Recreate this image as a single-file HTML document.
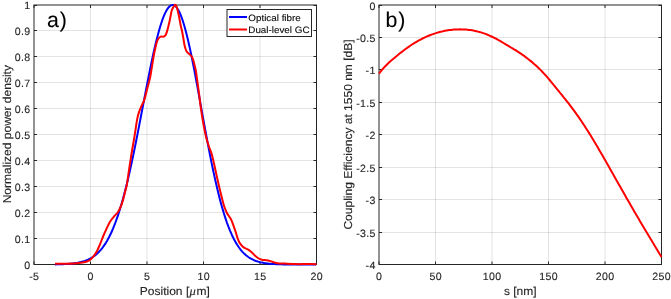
<!DOCTYPE html>
<html><head><meta charset="utf-8"><style>
html,body{margin:0;padding:0;background:#fff;}
svg{display:block;}
body>svg{will-change:transform;}
text{font-family:"Liberation Sans", sans-serif;fill:#262626;text-rendering:geometricPrecision;stroke:#262626;stroke-width:0.12px;}
</style></head><body>
<svg width="671" height="299" viewBox="0 0 671 299">
<rect width="671" height="299" fill="#fff"/>
<line x1="90.5" y1="5.0" x2="90.5" y2="264.5" stroke="#262626" stroke-opacity="0.13" stroke-width="1"/>
<line x1="147.0" y1="5.0" x2="147.0" y2="264.5" stroke="#262626" stroke-opacity="0.13" stroke-width="1"/>
<line x1="203.5" y1="5.0" x2="203.5" y2="264.5" stroke="#262626" stroke-opacity="0.13" stroke-width="1"/>
<line x1="260.0" y1="5.0" x2="260.0" y2="264.5" stroke="#262626" stroke-opacity="0.13" stroke-width="1"/>
<line x1="34.0" y1="238.5" x2="316.5" y2="238.5" stroke="#262626" stroke-opacity="0.13" stroke-width="1"/>
<line x1="34.0" y1="212.5" x2="316.5" y2="212.5" stroke="#262626" stroke-opacity="0.13" stroke-width="1"/>
<line x1="34.0" y1="186.5" x2="316.5" y2="186.5" stroke="#262626" stroke-opacity="0.13" stroke-width="1"/>
<line x1="34.0" y1="160.5" x2="316.5" y2="160.5" stroke="#262626" stroke-opacity="0.13" stroke-width="1"/>
<line x1="34.0" y1="134.5" x2="316.5" y2="134.5" stroke="#262626" stroke-opacity="0.13" stroke-width="1"/>
<line x1="34.0" y1="108.5" x2="316.5" y2="108.5" stroke="#262626" stroke-opacity="0.13" stroke-width="1"/>
<line x1="34.0" y1="82.5" x2="316.5" y2="82.5" stroke="#262626" stroke-opacity="0.13" stroke-width="1"/>
<line x1="34.0" y1="56.5" x2="316.5" y2="56.5" stroke="#262626" stroke-opacity="0.13" stroke-width="1"/>
<line x1="34.0" y1="30.5" x2="316.5" y2="30.5" stroke="#262626" stroke-opacity="0.13" stroke-width="1"/>
<line x1="435.5" y1="5.0" x2="435.5" y2="264.5" stroke="#262626" stroke-opacity="0.13" stroke-width="1"/>
<line x1="492.0" y1="5.0" x2="492.0" y2="264.5" stroke="#262626" stroke-opacity="0.13" stroke-width="1"/>
<line x1="548.5" y1="5.0" x2="548.5" y2="264.5" stroke="#262626" stroke-opacity="0.13" stroke-width="1"/>
<line x1="605.0" y1="5.0" x2="605.0" y2="264.5" stroke="#262626" stroke-opacity="0.13" stroke-width="1"/>
<line x1="379.0" y1="37.5" x2="661.5" y2="37.5" stroke="#262626" stroke-opacity="0.13" stroke-width="1"/>
<line x1="379.0" y1="69.5" x2="661.5" y2="69.5" stroke="#262626" stroke-opacity="0.13" stroke-width="1"/>
<line x1="379.0" y1="102.5" x2="661.5" y2="102.5" stroke="#262626" stroke-opacity="0.13" stroke-width="1"/>
<line x1="379.0" y1="134.5" x2="661.5" y2="134.5" stroke="#262626" stroke-opacity="0.13" stroke-width="1"/>
<line x1="379.0" y1="167.5" x2="661.5" y2="167.5" stroke="#262626" stroke-opacity="0.13" stroke-width="1"/>
<line x1="379.0" y1="199.5" x2="661.5" y2="199.5" stroke="#262626" stroke-opacity="0.13" stroke-width="1"/>
<line x1="379.0" y1="232.5" x2="661.5" y2="232.5" stroke="#262626" stroke-opacity="0.13" stroke-width="1"/>
<rect x="34.0" y="5.0" width="282.5" height="259.5" fill="none" stroke="#262626" stroke-width="1"/>
<line x1="34.0" y1="264.5" x2="34.0" y2="261.5" stroke="#262626"/>
<line x1="34.0" y1="5.0" x2="34.0" y2="8.0" stroke="#262626"/>
<line x1="90.5" y1="264.5" x2="90.5" y2="261.5" stroke="#262626"/>
<line x1="90.5" y1="5.0" x2="90.5" y2="8.0" stroke="#262626"/>
<line x1="147.0" y1="264.5" x2="147.0" y2="261.5" stroke="#262626"/>
<line x1="147.0" y1="5.0" x2="147.0" y2="8.0" stroke="#262626"/>
<line x1="203.5" y1="264.5" x2="203.5" y2="261.5" stroke="#262626"/>
<line x1="203.5" y1="5.0" x2="203.5" y2="8.0" stroke="#262626"/>
<line x1="260.0" y1="264.5" x2="260.0" y2="261.5" stroke="#262626"/>
<line x1="260.0" y1="5.0" x2="260.0" y2="8.0" stroke="#262626"/>
<line x1="316.5" y1="264.5" x2="316.5" y2="261.5" stroke="#262626"/>
<line x1="316.5" y1="5.0" x2="316.5" y2="8.0" stroke="#262626"/>
<line x1="34.0" y1="264.5" x2="37.0" y2="264.5" stroke="#262626"/>
<line x1="316.5" y1="264.5" x2="313.5" y2="264.5" stroke="#262626"/>
<line x1="34.0" y1="238.5" x2="37.0" y2="238.5" stroke="#262626"/>
<line x1="316.5" y1="238.5" x2="313.5" y2="238.5" stroke="#262626"/>
<line x1="34.0" y1="212.5" x2="37.0" y2="212.5" stroke="#262626"/>
<line x1="316.5" y1="212.5" x2="313.5" y2="212.5" stroke="#262626"/>
<line x1="34.0" y1="186.5" x2="37.0" y2="186.5" stroke="#262626"/>
<line x1="316.5" y1="186.5" x2="313.5" y2="186.5" stroke="#262626"/>
<line x1="34.0" y1="160.5" x2="37.0" y2="160.5" stroke="#262626"/>
<line x1="316.5" y1="160.5" x2="313.5" y2="160.5" stroke="#262626"/>
<line x1="34.0" y1="134.5" x2="37.0" y2="134.5" stroke="#262626"/>
<line x1="316.5" y1="134.5" x2="313.5" y2="134.5" stroke="#262626"/>
<line x1="34.0" y1="108.5" x2="37.0" y2="108.5" stroke="#262626"/>
<line x1="316.5" y1="108.5" x2="313.5" y2="108.5" stroke="#262626"/>
<line x1="34.0" y1="82.5" x2="37.0" y2="82.5" stroke="#262626"/>
<line x1="316.5" y1="82.5" x2="313.5" y2="82.5" stroke="#262626"/>
<line x1="34.0" y1="56.5" x2="37.0" y2="56.5" stroke="#262626"/>
<line x1="316.5" y1="56.5" x2="313.5" y2="56.5" stroke="#262626"/>
<line x1="34.0" y1="30.5" x2="37.0" y2="30.5" stroke="#262626"/>
<line x1="316.5" y1="30.5" x2="313.5" y2="30.5" stroke="#262626"/>
<line x1="34.0" y1="5.5" x2="37.0" y2="5.5" stroke="#262626"/>
<line x1="316.5" y1="5.5" x2="313.5" y2="5.5" stroke="#262626"/>
<rect x="379.0" y="5.0" width="282.5" height="259.5" fill="none" stroke="#262626" stroke-width="1"/>
<line x1="379.0" y1="264.5" x2="379.0" y2="261.5" stroke="#262626"/>
<line x1="379.0" y1="5.0" x2="379.0" y2="8.0" stroke="#262626"/>
<line x1="435.5" y1="264.5" x2="435.5" y2="261.5" stroke="#262626"/>
<line x1="435.5" y1="5.0" x2="435.5" y2="8.0" stroke="#262626"/>
<line x1="492.0" y1="264.5" x2="492.0" y2="261.5" stroke="#262626"/>
<line x1="492.0" y1="5.0" x2="492.0" y2="8.0" stroke="#262626"/>
<line x1="548.5" y1="264.5" x2="548.5" y2="261.5" stroke="#262626"/>
<line x1="548.5" y1="5.0" x2="548.5" y2="8.0" stroke="#262626"/>
<line x1="605.0" y1="264.5" x2="605.0" y2="261.5" stroke="#262626"/>
<line x1="605.0" y1="5.0" x2="605.0" y2="8.0" stroke="#262626"/>
<line x1="661.5" y1="264.5" x2="661.5" y2="261.5" stroke="#262626"/>
<line x1="661.5" y1="5.0" x2="661.5" y2="8.0" stroke="#262626"/>
<line x1="379.0" y1="5.5" x2="382.0" y2="5.5" stroke="#262626"/>
<line x1="661.5" y1="5.5" x2="658.5" y2="5.5" stroke="#262626"/>
<line x1="379.0" y1="37.5" x2="382.0" y2="37.5" stroke="#262626"/>
<line x1="661.5" y1="37.5" x2="658.5" y2="37.5" stroke="#262626"/>
<line x1="379.0" y1="69.5" x2="382.0" y2="69.5" stroke="#262626"/>
<line x1="661.5" y1="69.5" x2="658.5" y2="69.5" stroke="#262626"/>
<line x1="379.0" y1="102.5" x2="382.0" y2="102.5" stroke="#262626"/>
<line x1="661.5" y1="102.5" x2="658.5" y2="102.5" stroke="#262626"/>
<line x1="379.0" y1="134.5" x2="382.0" y2="134.5" stroke="#262626"/>
<line x1="661.5" y1="134.5" x2="658.5" y2="134.5" stroke="#262626"/>
<line x1="379.0" y1="167.5" x2="382.0" y2="167.5" stroke="#262626"/>
<line x1="661.5" y1="167.5" x2="658.5" y2="167.5" stroke="#262626"/>
<line x1="379.0" y1="199.5" x2="382.0" y2="199.5" stroke="#262626"/>
<line x1="661.5" y1="199.5" x2="658.5" y2="199.5" stroke="#262626"/>
<line x1="379.0" y1="232.5" x2="382.0" y2="232.5" stroke="#262626"/>
<line x1="661.5" y1="232.5" x2="658.5" y2="232.5" stroke="#262626"/>
<line x1="379.0" y1="264.5" x2="382.0" y2="264.5" stroke="#262626"/>
<line x1="661.5" y1="264.5" x2="658.5" y2="264.5" stroke="#262626"/>
<svg x="34.0" y="5.0" width="282.5" height="259.5" viewBox="34.0 5.0 282.5 259.5" overflow="visible">
<polyline points="55.0,264.4 56.0,264.4 57.0,264.3 58.0,264.3 59.0,264.3 60.0,264.3 61.0,264.2 62.0,264.2 63.0,264.2 64.0,264.1 65.0,264.1 66.0,264.0 67.0,264.0 68.0,263.9 69.0,263.8 70.0,263.8 71.0,263.7 72.0,263.6 73.0,263.5 74.0,263.3 75.0,263.2 76.0,263.1 77.0,262.9 78.0,262.7 79.0,262.5 80.0,262.3 81.0,262.1 82.0,261.8 83.0,261.5 84.0,261.2 85.0,260.9 86.0,260.5 87.0,260.1 88.0,259.7 89.0,259.2 90.0,258.7 91.0,258.1 92.0,257.5 93.0,256.9 94.0,256.2 95.0,255.4 96.0,254.6 97.0,253.7 98.0,252.8 99.0,251.8 100.0,250.7 101.0,249.6 102.0,248.4 103.0,247.0 104.0,245.6 105.0,244.2 106.0,242.6 107.0,240.9 108.0,239.1 109.0,237.3 110.0,235.3 111.0,233.2 112.0,231.0 113.0,228.7 114.0,226.2 115.0,223.7 116.0,221.0 117.0,218.2 118.0,215.3 119.0,212.2 120.0,209.0 121.0,205.7 122.0,202.3 123.0,198.7 124.0,195.0 125.0,191.2 126.0,187.2 127.0,183.2 128.0,179.0 129.0,174.7 130.0,170.3 131.0,165.7 132.0,161.1 133.0,156.4 134.0,151.6 135.0,146.7 136.0,141.7 137.0,136.7 138.0,131.6 139.0,126.4 140.0,121.2 141.0,116.0 142.0,110.8 143.0,105.5 144.0,100.3 145.0,95.1 146.0,89.9 147.0,84.7 148.0,79.6 149.0,74.6 150.0,69.6 151.0,64.7 152.0,60.0 153.0,55.3 154.0,50.8 155.0,46.5 156.0,42.2 157.0,38.2 158.0,34.4 159.0,30.7 160.0,27.2 161.0,24.0 162.0,21.0 163.0,18.2 164.0,15.7 165.0,13.4 166.0,11.4 167.0,9.6 168.0,8.2 169.0,7.0 170.0,6.0 171.0,5.4 172.0,5.1 173.0,5.0 174.0,5.3 175.0,5.8 176.0,6.7 177.0,8.0 178.0,9.5 179.0,11.3 180.0,13.4 181.0,15.8 182.0,18.5 183.0,21.5 184.0,24.7 185.0,28.2 186.0,32.0 187.0,35.9 188.0,40.1 189.0,44.4 190.0,48.9 191.0,53.6 192.0,58.5 193.0,63.5 194.0,68.6 195.0,73.8 196.0,79.2 197.0,84.5 198.0,90.0 199.0,95.5 200.0,101.0 201.0,106.6 202.0,112.1 203.0,117.6 204.0,123.1 205.0,128.6 206.0,134.0 207.0,139.4 208.0,144.6 209.0,149.8 210.0,155.0 211.0,160.0 212.0,164.9 213.0,169.7 214.0,174.4 215.0,178.9 216.0,183.3 217.0,187.6 218.0,191.8 219.0,195.8 220.0,199.7 221.0,203.4 222.0,207.0 223.0,210.4 224.0,213.7 225.0,216.9 226.0,219.9 227.0,222.8 228.0,225.5 229.0,228.1 230.0,230.6 231.0,232.9 232.0,235.2 233.0,237.3 234.0,239.2 235.0,241.1 236.0,242.9 237.0,244.5 238.0,246.0 239.0,247.5 240.0,248.8 241.0,250.1 242.0,251.3 243.0,252.4 244.0,253.4 245.0,254.3 246.0,255.2 247.0,256.0 248.0,256.8 249.0,257.5 250.0,258.1 251.0,258.7 252.0,259.2 253.0,259.7 254.0,260.2 255.0,260.6 256.0,261.0 257.0,261.3 258.0,261.6 259.0,261.9 260.0,262.2 261.0,262.4 262.0,262.6 263.0,262.8 264.0,263.0 265.0,263.2 266.0,263.3 267.0,263.5 268.0,263.6 269.0,263.7 270.0,263.8 271.0,263.9 272.0,263.9 273.0,264.0 274.0,264.1 275.0,264.1 276.0,264.2 277.0,264.2 278.0,264.2 279.0,264.3 280.0,264.3 281.0,264.3 282.0,264.3 283.0,264.4 284.0,264.4 285.0,264.4 286.0,264.4 287.0,264.4 288.0,264.4 289.0,264.4 290.0,264.4 291.0,264.5 292.0,264.5 293.0,264.5 294.0,264.5 295.0,264.5 296.0,264.5 297.0,264.5 298.0,264.5 299.0,264.5 300.0,264.5 301.0,264.5 302.0,264.5 303.0,264.5 304.0,264.5 305.0,264.5 306.0,264.5 307.0,264.5 308.0,264.5 309.0,264.5 310.0,264.5 311.0,264.5 312.0,264.5 313.0,264.5 314.0,264.5 315.0,264.5 316.0,264.5" fill="none" stroke="#0000ff" stroke-width="2" stroke-linejoin="round" stroke-linecap="butt"/>
<path d="M55.00,263.70 C56.73,263.70 62.38,263.73 65.40,263.70 C68.42,263.67 70.53,263.65 73.10,263.50 C75.67,263.35 78.62,263.08 80.80,262.80 C82.98,262.52 84.67,262.27 86.20,261.80 C87.73,261.33 88.73,261.00 90.00,260.00 C91.27,259.00 92.65,257.27 93.80,255.80 C94.95,254.33 95.87,253.12 96.90,251.20 C97.93,249.28 98.93,246.83 100.00,244.30 C101.07,241.77 102.18,238.65 103.30,236.00 C104.42,233.35 105.58,230.78 106.70,228.40 C107.82,226.02 108.73,223.73 110.00,221.70 C111.27,219.67 113.07,217.68 114.30,216.20 C115.53,214.72 116.55,213.92 117.40,212.80 C118.25,211.68 118.68,210.95 119.40,209.50 C120.12,208.05 121.02,206.00 121.70,204.10 C122.38,202.20 122.95,200.10 123.50,198.10 C124.05,196.10 124.45,194.28 125.00,192.10 C125.55,189.92 126.13,188.67 126.80,185.00 C127.47,181.33 128.38,174.22 129.00,170.10 C129.62,165.98 129.95,163.82 130.50,160.30 C131.05,156.78 131.73,152.38 132.30,149.00 C132.87,145.62 133.37,143.17 133.90,140.00 C134.43,136.83 135.03,133.03 135.50,130.00 C135.97,126.97 136.28,124.20 136.70,121.80 C137.12,119.40 137.58,117.30 138.00,115.60 C138.42,113.90 138.63,113.18 139.20,111.60 C139.77,110.02 140.63,107.82 141.40,106.10 C142.17,104.38 143.10,103.10 143.80,101.30 C144.50,99.50 145.00,97.52 145.60,95.30 C146.20,93.08 146.83,90.22 147.40,88.00 C147.97,85.78 148.48,84.08 149.00,82.00 C149.52,79.92 150.00,78.12 150.50,75.50 C151.00,72.88 151.48,69.47 152.00,66.30 C152.52,63.13 153.10,59.30 153.60,56.50 C154.10,53.70 154.53,51.65 155.00,49.50 C155.47,47.35 155.90,45.32 156.40,43.60 C156.90,41.88 157.28,40.37 158.00,39.20 C158.72,38.03 159.80,37.02 160.70,36.60 C161.60,36.18 162.62,36.92 163.40,36.70 C164.18,36.48 164.83,36.07 165.40,35.30 C165.97,34.53 166.35,33.42 166.80,32.10 C167.25,30.78 167.67,29.08 168.10,27.40 C168.53,25.72 169.00,23.82 169.40,22.00 C169.80,20.18 170.07,18.55 170.50,16.50 C170.93,14.45 171.30,11.58 172.00,9.70 C172.70,7.82 174.12,5.98 174.70,5.20 C175.28,4.42 175.17,4.70 175.50,5.00 C175.83,5.30 176.17,5.33 176.70,7.00 C177.23,8.67 178.03,11.92 178.70,15.00 C179.37,18.08 180.15,22.83 180.70,25.50 C181.25,28.17 181.55,28.83 182.00,31.00 C182.45,33.17 182.95,35.98 183.40,38.50 C183.85,41.02 184.18,43.98 184.70,46.10 C185.22,48.22 185.72,49.87 186.50,51.20 C187.28,52.53 188.48,53.13 189.40,54.10 C190.32,55.07 191.32,55.85 192.00,57.00 C192.68,58.15 193.03,59.47 193.50,61.00 C193.97,62.53 194.42,64.62 194.80,66.20 C195.18,67.78 195.40,68.17 195.80,70.50 C196.20,72.83 196.65,76.25 197.20,80.20 C197.75,84.15 198.47,89.40 199.10,94.20 C199.73,99.00 200.25,103.87 201.00,109.00 C201.75,114.13 202.73,120.25 203.60,125.00 C204.47,129.75 205.32,133.92 206.20,137.50 C207.08,141.08 208.02,143.85 208.90,146.50 C209.78,149.15 210.65,150.57 211.50,153.40 C212.35,156.23 213.17,159.90 214.00,163.50 C214.83,167.10 215.67,171.23 216.50,175.00 C217.33,178.77 218.08,182.22 219.00,186.10 C219.92,189.98 221.17,195.02 222.00,198.30 C222.83,201.58 223.22,203.43 224.00,205.80 C224.78,208.17 225.80,210.67 226.70,212.50 C227.60,214.33 228.62,215.53 229.40,216.80 C230.18,218.07 230.73,218.68 231.40,220.10 C232.07,221.52 232.70,223.35 233.40,225.30 C234.10,227.25 234.95,229.78 235.60,231.80 C236.25,233.82 236.67,235.62 237.30,237.40 C237.93,239.18 238.52,241.00 239.40,242.50 C240.28,244.00 241.53,245.40 242.60,246.40 C243.67,247.40 244.73,247.87 245.80,248.50 C246.87,249.13 247.93,249.48 249.00,250.20 C250.07,250.92 251.13,251.83 252.20,252.80 C253.27,253.77 254.32,255.05 255.40,256.00 C256.48,256.95 257.62,257.88 258.70,258.50 C259.78,259.12 260.85,259.43 261.90,259.70 C262.95,259.97 264.15,260.00 265.00,260.10 C265.85,260.20 266.08,260.13 267.00,260.30 C267.92,260.47 269.32,260.75 270.50,261.10 C271.68,261.45 272.90,262.05 274.10,262.40 C275.30,262.75 275.92,263.00 277.70,263.20 C279.48,263.40 281.82,263.45 284.80,263.60 C287.78,263.75 291.87,264.02 295.60,264.10 C299.33,264.18 303.72,264.08 307.20,264.10 C310.68,264.12 314.95,264.18 316.50,264.20" fill="none" stroke="#ff0000" stroke-width="2" stroke-linejoin="round"/>
</svg>
<svg x="379.0" y="5.0" width="282.5" height="259.5" viewBox="379.0 5.0 282.5 259.5" overflow="visible">
<polyline points="379.0,73.6 380.5,71.7 382.0,69.9 383.5,68.1 385.0,66.5 386.5,65.0 388.0,63.5 389.5,62.1 391.0,60.8 392.5,59.5 394.0,58.2 395.5,57.0 397.0,55.7 398.5,54.5 400.0,53.3 401.5,52.1 403.0,51.0 404.5,49.8 406.0,48.7 407.5,47.6 409.0,46.6 410.5,45.5 412.0,44.5 413.5,43.6 415.0,42.7 416.5,41.8 418.0,40.9 419.5,40.1 421.0,39.3 422.5,38.5 424.0,37.8 425.5,37.1 427.0,36.4 428.5,35.8 430.0,35.2 431.5,34.6 433.0,34.1 434.5,33.6 436.0,33.1 437.5,32.6 439.0,32.2 440.5,31.8 442.0,31.5 443.5,31.1 445.0,30.8 446.5,30.5 448.0,30.3 449.5,30.1 451.0,29.9 452.5,29.7 454.0,29.6 455.5,29.5 457.0,29.4 458.5,29.4 460.0,29.3 461.5,29.4 463.0,29.4 464.5,29.5 466.0,29.6 467.5,29.7 469.0,29.9 470.5,30.1 472.0,30.3 473.5,30.6 475.0,30.9 476.5,31.2 478.0,31.6 479.5,32.0 481.0,32.4 482.5,32.9 484.0,33.4 485.5,33.9 487.0,34.5 488.5,35.1 490.0,35.8 491.5,36.5 493.0,37.2 494.5,38.0 496.0,38.7 497.5,39.5 499.0,40.4 500.5,41.2 502.0,42.1 503.5,43.0 505.0,43.9 506.5,44.8 508.0,45.7 509.5,46.6 511.0,47.5 512.5,48.4 514.0,49.3 515.5,50.2 517.0,51.1 518.5,52.1 520.0,53.1 521.5,54.1 523.0,55.2 524.5,56.2 526.0,57.4 527.5,58.5 529.0,59.7 530.5,60.9 532.0,62.1 533.5,63.4 535.0,64.7 536.5,66.1 538.0,67.5 539.5,68.9 541.0,70.4 542.5,72.0 544.0,73.6 545.5,75.2 547.0,76.9 548.5,78.7 550.0,80.5 551.5,82.3 553.0,84.1 554.5,86.0 556.0,87.8 557.5,89.7 559.0,91.5 560.5,93.4 562.0,95.2 563.5,97.1 565.0,98.9 566.5,100.8 568.0,102.7 569.5,104.6 571.0,106.6 572.5,108.6 574.0,110.6 575.5,112.7 577.0,114.8 578.5,116.9 580.0,119.1 581.5,121.3 583.0,123.6 584.5,125.8 586.0,128.2 587.5,130.5 589.0,132.9 590.5,135.3 592.0,137.8 593.5,140.2 595.0,142.7 596.5,145.3 598.0,147.8 599.5,150.4 601.0,152.9 602.5,155.5 604.0,158.2 605.5,160.8 607.0,163.4 608.5,166.1 610.0,168.7 611.5,171.4 613.0,174.0 614.5,176.7 616.0,179.4 617.5,182.0 619.0,184.7 620.5,187.3 622.0,190.0 623.5,192.6 625.0,195.3 626.5,197.9 628.0,200.5 629.5,203.1 631.0,205.7 632.5,208.3 634.0,210.9 635.5,213.5 637.0,216.0 638.5,218.6 640.0,221.2 641.5,223.7 643.0,226.2 644.5,228.8 646.0,231.3 647.5,233.8 649.0,236.3 650.5,238.8 652.0,241.3 653.5,243.8 655.0,246.3 656.5,248.8 658.0,251.3 659.5,253.8 661.5,257.1" fill="none" stroke="#ff0000" stroke-width="2" stroke-linejoin="round" stroke-linecap="butt"/>
</svg>
<rect x="227" y="9.5" width="84.5" height="27" fill="#fff" stroke="#262626" stroke-width="1"/>
<line x1="229" y1="17" x2="247" y2="17" stroke="#0000ff" stroke-width="2"/>
<line x1="229" y1="29.5" x2="247" y2="29.5" stroke="#ff0000" stroke-width="2"/>
<text transform="translate(248.30,20.60) scale(1.07,1)" text-anchor="start" font-size="9.2" style="fill:#000">Optical fibre</text>
<text transform="translate(248.30,33.20) scale(1.07,1)" text-anchor="start" font-size="9.2" style="fill:#000">Dual-level GC</text>
<text transform="translate(34.15,279.80) scale(1.0,1)" text-anchor="middle" font-size="10.6" letter-spacing="0.3">-5</text>
<text transform="translate(90.65,279.80) scale(1.0,1)" text-anchor="middle" font-size="10.6" letter-spacing="0.3">0</text>
<text transform="translate(147.15,279.80) scale(1.0,1)" text-anchor="middle" font-size="10.6" letter-spacing="0.3">5</text>
<text transform="translate(203.65,279.80) scale(1.0,1)" text-anchor="middle" font-size="10.6" letter-spacing="0.3">10</text>
<text transform="translate(260.15,279.80) scale(1.0,1)" text-anchor="middle" font-size="10.6" letter-spacing="0.3">15</text>
<text transform="translate(316.65,279.80) scale(1.0,1)" text-anchor="middle" font-size="10.6" letter-spacing="0.3">20</text>
<text transform="translate(30.50,268.60) scale(1.0,1)" text-anchor="end" font-size="10.6" letter-spacing="0.3">0</text>
<text transform="translate(30.50,242.65) scale(1.0,1)" text-anchor="end" font-size="10.6" letter-spacing="0.3">0.1</text>
<text transform="translate(30.50,216.70) scale(1.0,1)" text-anchor="end" font-size="10.6" letter-spacing="0.3">0.2</text>
<text transform="translate(30.50,190.75) scale(1.0,1)" text-anchor="end" font-size="10.6" letter-spacing="0.3">0.3</text>
<text transform="translate(30.50,164.80) scale(1.0,1)" text-anchor="end" font-size="10.6" letter-spacing="0.3">0.4</text>
<text transform="translate(30.50,138.85) scale(1.0,1)" text-anchor="end" font-size="10.6" letter-spacing="0.3">0.5</text>
<text transform="translate(30.50,112.90) scale(1.0,1)" text-anchor="end" font-size="10.6" letter-spacing="0.3">0.6</text>
<text transform="translate(30.50,86.95) scale(1.0,1)" text-anchor="end" font-size="10.6" letter-spacing="0.3">0.7</text>
<text transform="translate(30.50,61.00) scale(1.0,1)" text-anchor="end" font-size="10.6" letter-spacing="0.3">0.8</text>
<text transform="translate(30.50,35.05) scale(1.0,1)" text-anchor="end" font-size="10.6" letter-spacing="0.3">0.9</text>
<text transform="translate(30.50,9.10) scale(1.0,1)" text-anchor="end" font-size="10.6" letter-spacing="0.3">1</text>
<text transform="translate(379.15,279.80) scale(1.0,1)" text-anchor="middle" font-size="10.6" letter-spacing="0.3">0</text>
<text transform="translate(435.65,279.80) scale(1.0,1)" text-anchor="middle" font-size="10.6" letter-spacing="0.3">50</text>
<text transform="translate(492.15,279.80) scale(1.0,1)" text-anchor="middle" font-size="10.6" letter-spacing="0.3">100</text>
<text transform="translate(548.65,279.80) scale(1.0,1)" text-anchor="middle" font-size="10.6" letter-spacing="0.3">150</text>
<text transform="translate(605.15,279.80) scale(1.0,1)" text-anchor="middle" font-size="10.6" letter-spacing="0.3">200</text>
<text transform="translate(661.65,279.80) scale(1.0,1)" text-anchor="middle" font-size="10.6" letter-spacing="0.3">250</text>
<text transform="translate(375.60,9.50) scale(1.0,1)" text-anchor="end" font-size="10.6" letter-spacing="0.3">0</text>
<text transform="translate(375.60,41.94) scale(1.0,1)" text-anchor="end" font-size="10.6" letter-spacing="0.3">-0.5</text>
<text transform="translate(375.60,74.38) scale(1.0,1)" text-anchor="end" font-size="10.6" letter-spacing="0.3">-1</text>
<text transform="translate(375.60,106.81) scale(1.0,1)" text-anchor="end" font-size="10.6" letter-spacing="0.3">-1.5</text>
<text transform="translate(375.60,139.25) scale(1.0,1)" text-anchor="end" font-size="10.6" letter-spacing="0.3">-2</text>
<text transform="translate(375.60,171.69) scale(1.0,1)" text-anchor="end" font-size="10.6" letter-spacing="0.3">-2.5</text>
<text transform="translate(375.60,204.12) scale(1.0,1)" text-anchor="end" font-size="10.6" letter-spacing="0.3">-3</text>
<text transform="translate(375.60,236.56) scale(1.0,1)" text-anchor="end" font-size="10.6" letter-spacing="0.3">-3.5</text>
<text transform="translate(375.60,269.00) scale(1.0,1)" text-anchor="end" font-size="10.6" letter-spacing="0.3">-4</text>
<text transform="translate(174.80,294.60) scale(1.045,1)" text-anchor="middle" font-size="11.5">Position [<tspan font-style="italic" font-family="Liberation Serif" font-size="12" dx="0.3">&#956;</tspan><tspan dx="0.6">m]</tspan></text>
<text transform="translate(520.25,294.60) scale(1.045,1)" text-anchor="middle" font-size="11.5">s [nm]</text>
<text transform="translate(10.60,134.20) rotate(-90) scale(1.045,1)" text-anchor="middle" font-size="11.5">Normalized power density</text>
<text transform="translate(351.60,134.50) rotate(-90) scale(1.045,1)" text-anchor="middle" font-size="11.5">Coupling Efficiency at 1550 nm [dB]</text>
<text transform="translate(46.90,27.40) scale(1.0,1)" text-anchor="start" font-size="21.3" style="fill:#000" letter-spacing="0.9">a)</text>
<text transform="translate(385.60,27.40) scale(1.0,1)" text-anchor="start" font-size="21.3" style="fill:#000" letter-spacing="0.9">b)</text>
</svg>
</body></html>
